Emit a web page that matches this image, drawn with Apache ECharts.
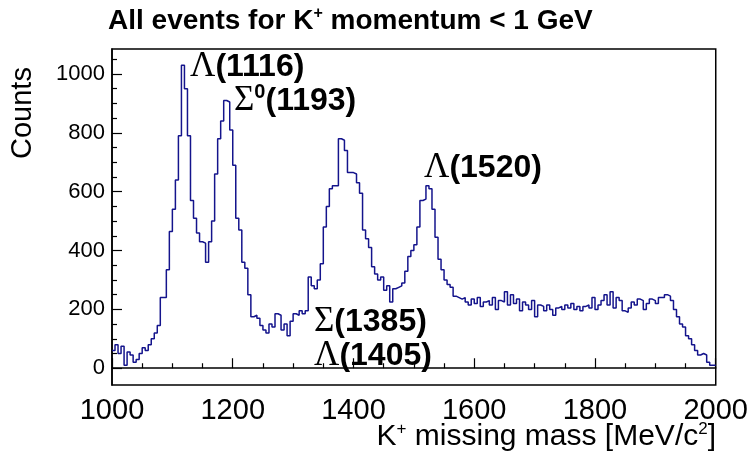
<!DOCTYPE html>
<html><head><meta charset="utf-8">
<script src="https://cdn.jsdelivr.net/npm/echarts@6/dist/echarts.min.js"></script>
<style>html,body{margin:0;padding:0;background:#fff}#c{width:751px;height:452px}</style>
</head><body><div id="c"></div>
<script>
// Histogram: K+ missing mass, 5 MeV bins from 1000 to 2000
const binLow = 1000, binWidth = 5;
const counts = [
 60,80,50,75,10,55,45,20,30,50, 70,60,80,100,120,145,240,240,335,465,
 540,640,790,1030,950,790,570,510,460,430, 425,360,430,500,660,780,840,910,905,810,
 690,510,470,360,340,250,175,180,170,145, 130,120,150,140,185,180,130,150,110,160,
 185,180,195,185,195,310,280,270,300,355, 480,550,610,620,620,780,775,740,665,665,
 660,630,595,470,440,410,345,320,300,310, 265,280,225,270,275,280,290,330,380,400,
 420,480,570,575,620,610,540,445,370,335, 300,285,275,245,240,235,
 240,225,215,235,220,240,210,225,230,215, 240,200,230,225,260,215,250,220,235,195,
 225,215,200,230,175,215,210,195,215,200, 180,205,210,200,215,205,220,200,210,195,
 210,215,205,240,200,215,230,250,215,260, 205,240,230,195,190,205,225,215,235,230,
 200,220,235,230,
 220,240,240,250,245,230,200,175,150,140, 110,100,80,60,45,50,45,20,10,10
];
const xTicks = [1000,1200,1400,1600,1800,2000];
const yTicks = [0,200,400,600,800,1000];
const yMinor = [50,100,150,250,300,350,450,500,550,650,700,750,850,900,950,1050];
const xRange = [1000,2000], yRange = [-57,1085];

const stepData = counts.map((v,i)=>[binLow+i*binWidth, v]);
stepData.push([binLow+counts.length*binWidth, counts[counts.length-1]]);

const FONT = '"Liberation Sans", Arial, Helvetica, sans-serif';
const SERIF = '"Liberation Serif", "Times New Roman", serif';
const chart = echarts.init(document.getElementById('c'), null, {renderer:'canvas'});

const richAnno = {
  g:{fontFamily:SERIF, fontSize:35, color:'#000'},
  b:{fontFamily:FONT, fontSize:32, fontWeight:'bold', color:'#000'},
  s:{fontFamily:FONT, fontSize:20, fontWeight:'bold', color:'#000', padding:[0,0,17,0]}
};
const anno = (x, y, txt) => ({type:'text', x:x, y:y, style:{text:txt, rich:richAnno, align:'left', verticalAlign:'middle'}});

chart.setOption({
  animation:false,
  backgroundColor:'#fff',
  grid:{left:112, right:35, top:49, bottom:67, show:true, borderColor:'#000', borderWidth:1.5, containLabel:false},
  xAxis:{type:'value', min:xRange[0], max:xRange[1], interval:200,
    axisLine:{lineStyle:{color:'#000', width:1.5}},
    axisTick:{inside:true, length:10, lineStyle:{color:'#000', width:1.2}},
    minorTick:{show:true, splitNumber:4, length:5, lineStyle:{color:'#000', width:1.2}},
    axisLabel:{fontFamily:FONT, fontSize:29, color:'#000', margin:11, customValues:xTicks, formatter:v=>String(v)},
    splitLine:{show:false}},
  yAxis:[
   {type:'value', min:yRange[0], max:yRange[1],
    axisLine:{show:true, lineStyle:{color:'#000', width:1.5}},
    axisTick:{inside:true, length:10, customValues:yTicks, lineStyle:{color:'#000', width:1.2}},
    axisLabel:{fontFamily:FONT, fontSize:22, color:'#000', margin:7, customValues:yTicks, formatter:v=>String(v)},
    splitLine:{show:false}},
   {type:'value', min:yRange[0], max:yRange[1], position:'left',
    axisLine:{show:false},
    axisTick:{inside:true, length:5, customValues:yMinor, lineStyle:{color:'#000', width:1.2}},
    axisLabel:{show:false},
    splitLine:{show:false}}
  ],
  series:[{type:'line', step:'end', data:stepData, symbol:'none', yAxisIndex:0,
    lineStyle:{color:'#14148c', width:1.5}}],
  graphic:[
    {type:'text', x:108, y:21, style:{text:'{a|All events for K}{s|+}{a| momentum < 1 GeV}', align:'left', verticalAlign:'middle', rich:{
      a:{fontFamily:FONT, fontSize:28, fontWeight:'bold', color:'#000'},
      s:{fontFamily:FONT, fontSize:16, fontWeight:'bold', color:'#000', padding:[0,0,15,0]}}}},
    {type:'text', x:8, y:159, rotation:Math.PI/2, style:{text:'Counts', fontFamily:FONT, fontSize:29, fill:'#000', align:'left', verticalAlign:'top'}},
    {type:'text', x:716, y:437, style:{text:'{a|K}{s|+}{a| missing mass [MeV/c}{s|2}{a|]}', align:'right', verticalAlign:'middle', rich:{
      a:{fontFamily:FONT, fontSize:30, color:'#000'},
      s:{fontFamily:FONT, fontSize:17, color:'#000', padding:[0,0,15,0]}}}},
    anno(190, 67, '{g|Λ}{b|(1116)}'),
    anno(234, 101, '{g|Σ}{s|0}{b|(1193)}'),
    anno(424, 168, '{g|Λ}{b|(1520)}'),
    anno(314, 322, '{g|Σ}{b|(1385)}'),
    anno(314, 356, '{g|Λ}{b|(1405)}')
  ]
});
</script></body></html>
